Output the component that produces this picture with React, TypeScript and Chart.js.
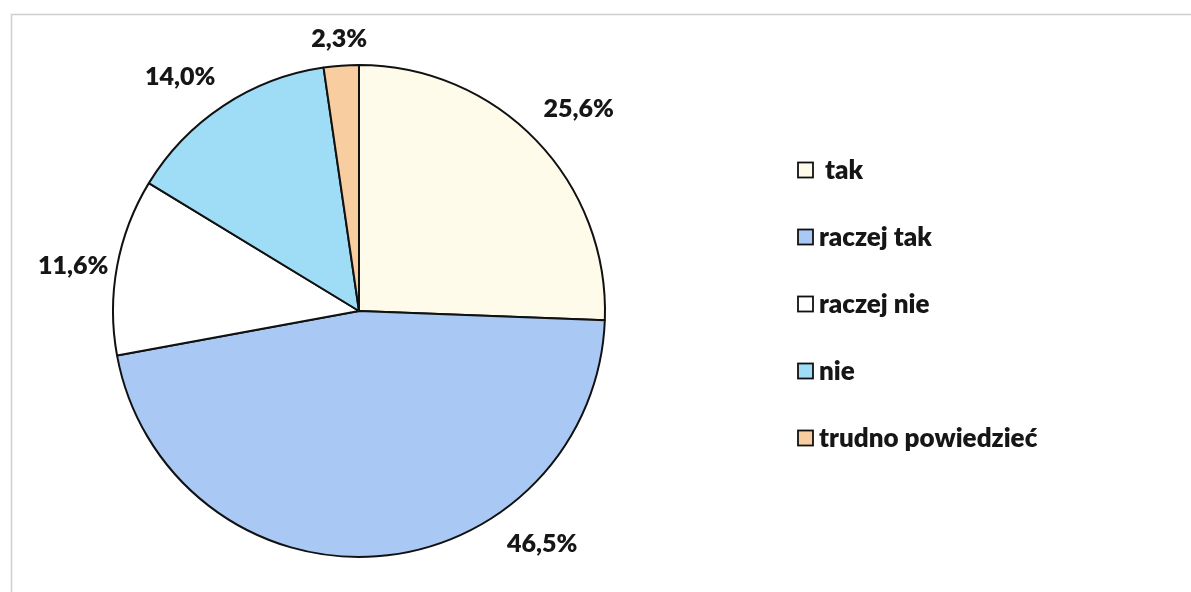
import React, { useEffect, useRef } from "react";
import { Chart, registerables } from "chart.js";

Chart.register(...registerables);

const categories = [" tak", "raczej tak", "raczej nie", "nie", "trudno powiedzieć"];
const values = [25.6, 46.5, 11.6, 14.0, 2.3];
const valueLabels = ["25,6%", "46,5%", "11,6%", "14,0%", "2,3%"];
const colors = ["#FFFBEA", "#A9C8F4", "#FFFFFF", "#9FDDF6", "#F8CDA0"];

const FONT = "Lato, 'Open Sans', sans-serif";
const WEIGHT = "800";

const framePlugin = {
  id: "frame",
  beforeDraw(chart: any) {
    const ctx = chart.ctx;
    ctx.save();
    ctx.fillStyle = "#ffffff";
    ctx.fillRect(0, 0, chart.width, chart.height);
    ctx.strokeStyle = "#cfcfcf";
    ctx.lineWidth = 1.5;
    ctx.beginPath();
    ctx.moveTo(11.5, chart.height);
    ctx.lineTo(11.5, 14.5);
    ctx.lineTo(chart.width, 14.5);
    ctx.stroke();
    ctx.restore();
  },
};

const labelPlugin = {
  id: "sliceLabels",
  afterDatasetsDraw(chart: any, _args: any, opts: any) {
    const ctx = chart.ctx;
    const meta = chart.getDatasetMeta(0);
    const texts: string[] = opts.texts;
    const shifts: number[] = opts.angleShift || [];
    const gaps: number[] = opts.gaps || [];
    ctx.save();
    ctx.font = `${WEIGHT} ${opts.size}px ${FONT}`;
    ctx.fillStyle = "#161616";
    ctx.textAlign = "center";
    ctx.textBaseline = "middle";
    meta.data.forEach((arc: any, i: number) => {
      const p = arc.getProps(["x", "y", "startAngle", "endAngle", "outerRadius"], true);
      const mid = (p.startAngle + p.endAngle) / 2 + ((shifts[i] || 0) * Math.PI) / 180;
      const t = texts[i];
      const halfW = ctx.measureText(t).width / 2;
      const halfH = opts.size * 0.4;
      const c = Math.cos(mid);
      const s = Math.sin(mid);
      const d = p.outerRadius + (gaps[i] ?? 16) + halfW * Math.abs(c) + halfH * Math.abs(s);
      ctx.fillText(t, p.x + d * c, p.y + d * s);
    });
    ctx.restore();
  },
};

const legendPlugin = {
  id: "sideLegend",
  afterDraw(chart: any, _args: any, opts: any) {
    const ctx = chart.ctx;
    const labels: string[] = chart.data.labels;
    const bg: string[] = chart.data.datasets[0].backgroundColor;
    ctx.save();
    ctx.font = `${WEIGHT} ${opts.size}px ${FONT}`;
    ctx.textBaseline = "middle";
    ctx.textAlign = "left";
    labels.forEach((lab, i) => {
      const cy = opts.top + i * opts.step;
      const bx = opts.left;
      const bs = opts.box;
      ctx.fillStyle = bg[i];
      ctx.fillRect(bx, cy - bs / 2, bs, bs);
      ctx.strokeStyle = "#111";
      ctx.lineWidth = 1.8;
      ctx.strokeRect(bx, cy - bs / 2, bs, bs);
      ctx.fillStyle = "#161616";
      ctx.fillText(lab, bx + bs + 6, cy + 1);
    });
    ctx.restore();
  },
};

export default function App() {
  const ref = useRef<HTMLCanvasElement | null>(null);

  useEffect(() => {
    if (!ref.current) return;
    const chart = new Chart(ref.current, {
      type: "pie",
      data: {
        labels: categories,
        datasets: [
          {
            data: values,
            backgroundColor: colors,
            borderColor: "#111111",
            borderWidth: 2,
          },
        ],
      },
      options: {
        responsive: false,
        animation: false,
        layout: { padding: { left: 112, right: 585, top: 64, bottom: 34 } },
        plugins: {
          legend: { display: false },
          tooltip: { enabled: false },
          sliceLabels: {
            texts: valueLabels,
            size: 25,
            gaps: [20, 21, 7, 19, 15],
            angleShift: [1.3, -34, -1.4, -3.9, 0],
          },
          sideLegend: { left: 798, top: 170, step: 67, box: 15, size: 26 },
        } as any,
      },
      plugins: [framePlugin, labelPlugin, legendPlugin],
    });
    return () => chart.destroy();
  }, []);

  return (
    <div style={{ position: "fixed", left: 0, top: 0, width: 1191, height: 592, background: "#fff" }}>
      <canvas ref={ref} width={1191} height={592} />
    </div>
  );
}
